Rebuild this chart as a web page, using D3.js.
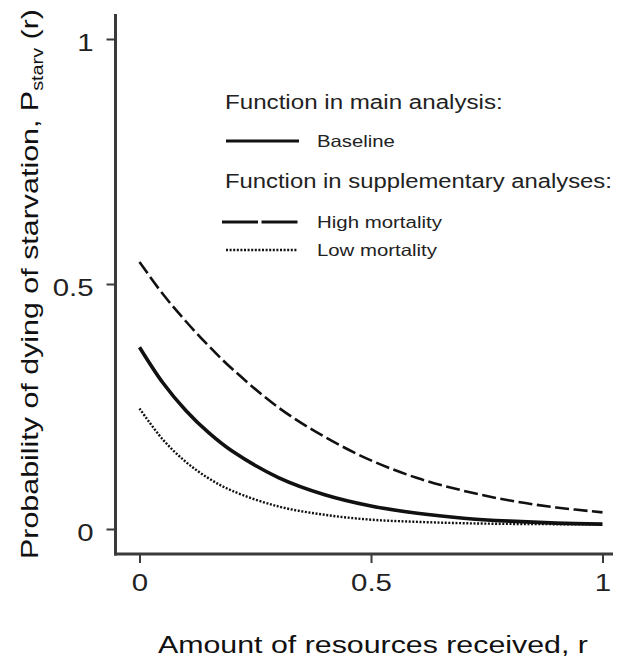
<!DOCTYPE html>
<html>
<head>
<meta charset="utf-8">
<script src="https://cdn.jsdelivr.net/npm/d3@7/dist/d3.min.js"></script>
<style>
  html, body { margin: 0; padding: 0; background: #fff; }
  svg { display: block; font-family: "Liberation Sans", Arial, Helvetica, sans-serif; }
</style>
</head>
<body>
<svg id="chart" width="617" height="661"></svg>
<script>
// ---- data ----
const rValues      = [0, 0.05, 0.1, 0.15, 0.2, 0.3, 0.4, 0.5, 0.6, 0.7, 0.8, 0.9, 1.0];
const baseline     = [0.371, 0.299, 0.242, 0.196, 0.159, 0.105, 0.070, 0.047, 0.032, 0.022, 0.016, 0.012, 0.010];
const highMort     = [0.545, 0.480, 0.424, 0.373, 0.327, 0.248, 0.188, 0.140, 0.104, 0.078, 0.058, 0.044, 0.034];
const lowMort      = [0.246, 0.183, 0.137, 0.103, 0.078, 0.046, 0.029, 0.019, 0.0146, 0.0118, 0.0104, 0.0098, 0.0095];
const xTicks       = [0, 0.5, 1];
const xTickLabels  = ["0", "0.5", "1"];
const yTicks       = [0, 0.5, 1];
const yTickLabels  = ["0", "0.5", "1"];
const legendGroups = ["Function in main analysis:", "Function in supplementary analyses:"];
const seriesNames  = ["Baseline", "High mortality", "Low mortality"];

const svg = d3.select("#chart");

const x = d3.scaleLinear().domain([0, 1]).range([139.5, 602.5]);
const y = d3.scaleLinear().domain([0, 1]).range([529, 39]);

const axisColor = "#3a3a3a";
const axisX = 115.5, axisY = 554;
const stretch = 1.2;

// helper: stretch a text element horizontally (in its own direction) to a target length
function fitWidth(sel, target) {
  const n = sel.node();
  const w = n.getComputedTextLength();
  const xx = +sel.attr("x"), yy = +sel.attr("y");
  const s = target / w;
  sel.attr("transform", `translate(${xx},${yy}) scale(${s},1) translate(${-xx},${-yy})`);
}

// axes lines
svg.append("line").attr("x1", axisX).attr("x2", axisX).attr("y1", 14).attr("y2", axisY + 1.5)
  .attr("stroke", axisColor).attr("stroke-width", 3);
svg.append("line").attr("x1", axisX - 1.5).attr("x2", 613).attr("y1", axisY).attr("y2", axisY)
  .attr("stroke", axisColor).attr("stroke-width", 3);

// y ticks
const yAxis = d3.axisLeft(y).tickValues(yTicks).tickFormat((d, i) => yTickLabels[i]).tickSize(9).tickPadding(13);
const gy = svg.append("g").attr("transform", `translate(${axisX},0)`).call(yAxis);
gy.select(".domain").remove();
gy.selectAll(".tick line").attr("stroke", axisColor).attr("stroke-width", 2);
gy.selectAll(".tick text").attr("font-size", 24.5).attr("fill", "#222").attr("dy", "0.45em")
  .attr("font-family", "Liberation Sans, Arial, sans-serif")
  .attr("transform", function() { const k = +d3.select(this).attr("x"); return `translate(${k},0) scale(${stretch},1) translate(${-k},0)`; });

// x ticks
const xAxis = d3.axisBottom(x).tickValues(xTicks).tickFormat((d, i) => xTickLabels[i]).tickSize(9).tickPadding(10.5);
const gx = svg.append("g").attr("transform", `translate(0,${axisY})`).call(xAxis);
gx.select(".domain").remove();
gx.selectAll(".tick line").attr("stroke", axisColor).attr("stroke-width", 2);
gx.selectAll(".tick text").attr("font-size", 24.5).attr("fill", "#222")
  .attr("font-family", "Liberation Sans, Arial, sans-serif")
  .attr("transform", `scale(${stretch},1)`);

// curves
const line = d3.line().x(d => x(d[0])).y(d => y(d[1])).curve(d3.curveCatmullRom.alpha(0.5));
const series = [
  { name: seriesNames[0], vals: baseline, width: 3.6, dash: null },
  { name: seriesNames[1], vals: highMort, width: 2.6, dash: "14,4.5" },
  { name: seriesNames[2], vals: lowMort,  width: 2.4, dash: "2,1.6" }
];
series.forEach(s => {
  svg.append("path")
    .datum(rValues.map((r, i) => [r, s.vals[i]]))
    .attr("d", line)
    .attr("fill", "none")
    .attr("stroke", "#111")
    .attr("stroke-width", s.width)
    .attr("stroke-dasharray", s.dash);
});

// legend
const leg = svg.append("g").attr("fill", "#222");
const h1 = leg.append("text").attr("x", 225).attr("y", 109).attr("font-size", 20).text(legendGroups[0]);
const h2 = leg.append("text").attr("x", 225).attr("y", 188).attr("font-size", 20).text(legendGroups[1]);
fitWidth(h1, 278);
fitWidth(h2, 387);

const legItems = [
  { name: seriesNames[0], y: 141, width: 3, dash: null, x1: 226, x2: 299, tw: 78 },
  { name: seriesNames[1], y: 222, width: 3, dash: "36,3.5", x1: 222, x2: 298, tw: 125 },
  { name: seriesNames[2], y: 250, width: 2.4, dash: "2,1.6", x1: 226, x2: 298, tw: 120 }
];
legItems.forEach(it => {
  svg.append("line").attr("x1", it.x1).attr("x2", it.x2).attr("y1", it.y).attr("y2", it.y)
    .attr("stroke", "#111").attr("stroke-width", it.width).attr("stroke-dasharray", it.dash);
  const t = leg.append("text").attr("x", 317).attr("y", it.y + 6).attr("font-size", 16.5).text(it.name);
  fitWidth(t, it.tw);
});

// axis titles
const xt = svg.append("text").attr("x", 158).attr("y", 653).attr("text-anchor", "start")
  .attr("font-size", 24).attr("fill", "#111").text("Amount of resources received, r");
fitWidth(xt, 430);

const ytg = svg.append("g");
const yt = ytg.append("text").attr("x", 0).attr("y", 0)
  .attr("text-anchor", "middle").attr("font-size", 24.5).attr("fill", "#111");
yt.append("tspan").text("Probability of dying of starvation, P");
yt.append("tspan").attr("font-size", 16).attr("dy", 5).text("starv");
yt.append("tspan").attr("dy", -5).text(" (r)");
const ylen = yt.node().getBBox().width;
const ys = 550 / ylen;
ytg.attr("transform", `translate(38,284) rotate(-90) scale(${ys},1)`);
</script>
</body>
</html>
